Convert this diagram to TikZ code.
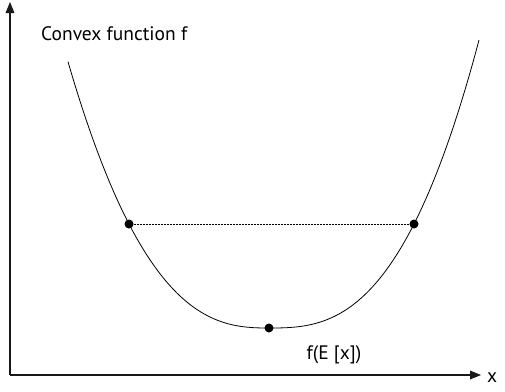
\documentclass[tikz,border=0pt]{standalone}
\usepackage{fontspec}
\setmainfont{PT Sans}
\usetikzlibrary{arrows.meta, positioning}

\tikzset{
  axisline/.style={line width=1.3pt, draw=black!90},
  axistip/.style={fill=black!90},
  curve/.style={line width=0.8pt, black},
  chord/.style={line width=0.8pt, black, dash pattern=on 2pt off 1pt},
  dot/.style={circle, fill=black, inner sep=0pt, minimum size=9pt},
  lbl/.style={font=\fontsize{19.5}{22}\selectfont, inner sep=0pt}
}

\begin{document}
\begin{tikzpicture}[x=1pt, y=-1pt]
  \useasboundingbox (0,0) rectangle (505,391);

  % Axes
  \coordinate (o) at (10,375);
  \coordinate (ybase) at (10,13);
  \coordinate (xbase) at (470,375);
  \draw[axisline] (o) -- (ybase);
  \draw[axisline] (o) -- (xbase);
  \fill[axistip] (ybase) ++(-4.5,0) -- (10,2) -- ++(4.5,11) -- cycle;
  \fill[axistip] (xbase) ++(0,-4.5) -- (481,375) -- ++(-11,4.5) -- cycle;
  \node[lbl, anchor=west] (xlbl) at (487,378) {x};

  % Convex curve (flat-bottomed, slightly steeper on the right)
  \draw[curve, domain=68:269, samples=60, variable=\t]
    plot ({\t}, {328 - 104*pow((269-\t)/140, 2.6)});
  \draw[curve, domain=269:479, samples=60, variable=\t]
    plot ({\t}, {328 - 104*pow((\t-269)/145, 2.75)});

  % Points on the curve
  \node[dot] (left) at (129,224) {};
  \node[dot] (right) at (414,224) {};
  \node[dot] (min) at (269,328) {};

  % Chord
  \draw[chord] (left) -- (right);

  % Labels
  \node[lbl, anchor=west] (title) at (41,34) {Convex function f};
  \node[lbl] (fE) at (334,355) {f(E [x])};
\end{tikzpicture}
\end{document}
